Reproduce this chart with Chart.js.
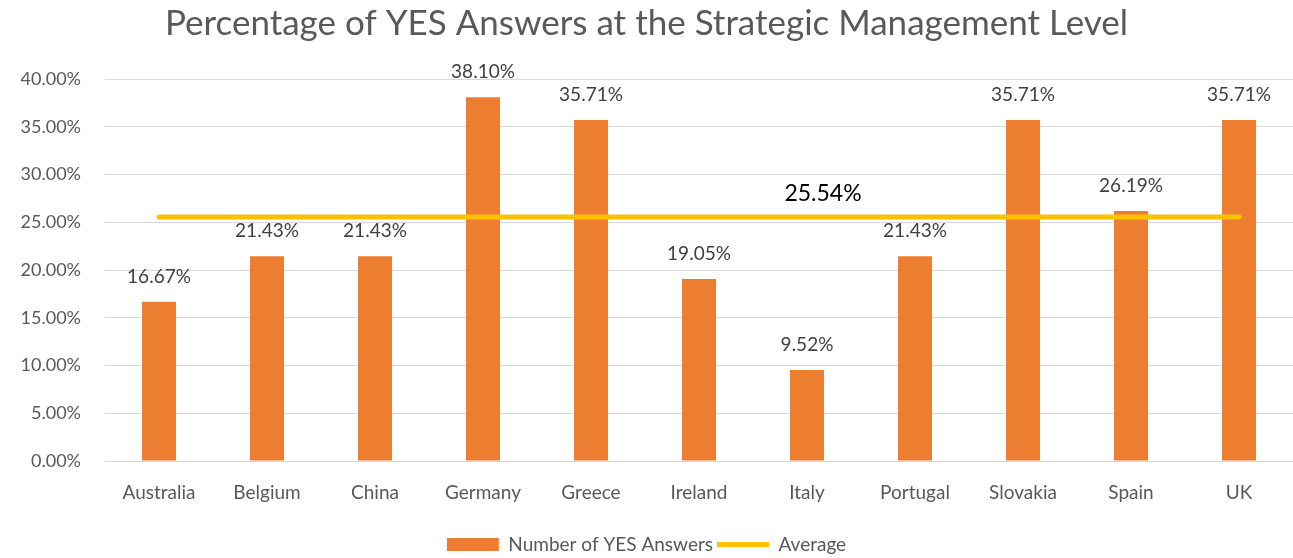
<!DOCTYPE html>
<html>
<head>
<meta charset="utf-8">
<script src="https://cdn.jsdelivr.net/npm/chart.js@4/dist/chart.umd.min.js"></script>
<style>
  html, body { margin: 0; padding: 0; background: #fff; }
  #wrap { width: 1293px; height: 558px; position: relative; }
</style>
</head>
<body>
<div id="wrap"><canvas id="yesChart"></canvas></div>
<script>
const countries = ['Australia', 'Belgium', 'China', 'Germany', 'Greece', 'Ireland', 'Italy', 'Portugal', 'Slovakia', 'Spain', 'UK'];
const yesValues = [16.67, 21.43, 21.43, 38.10, 35.71, 19.05, 9.52, 21.43, 35.71, 26.19, 35.71];
const averageValue = 25.54;
const averageValues = countries.map(() => averageValue);

const fontFamily = 'Lato, "Open Sans", sans-serif';

// draws the value labels over the bars and the one average label
const valueLabels = {
    id: 'valueLabels',
    afterDatasetsDraw(chart) {
        const ctx = chart.ctx;
        ctx.save();
        ctx.textAlign = 'center';
        ctx.textBaseline = 'middle';

        const barMeta = chart.getDatasetMeta(0);
        ctx.font = '19px ' + fontFamily;
        ctx.fillStyle = '#404040';
        barMeta.data.forEach((bar, i) => {
            ctx.fillText(yesValues[i].toFixed(2) + '%', bar.x, bar.y - 25);
        });

        const lineMeta = chart.getDatasetMeta(1);
        const pt = lineMeta.data[6];
        ctx.font = '23px ' + fontFamily;
        ctx.fillStyle = '#000000';
        ctx.fillText(averageValue.toFixed(2) + '%', pt.x + 16, pt.y - 24);
        ctx.restore();
    }
};

new Chart(document.getElementById('yesChart'), {
    type: 'bar',
    data: {
        labels: countries,
        datasets: [{
            label: 'Number of YES Answers',
            data: yesValues,
            backgroundColor: '#ED7D31',
            borderWidth: 0,
            barPercentage: 0.315,
            categoryPercentage: 1,
            pointStyle: 'rect',
            order: 2
        }, {
            type: 'line',
            label: 'Average',
            data: averageValues,
            borderColor: '#FFC000',
            backgroundColor: '#FFC000',
            borderWidth: 5,
            borderCapStyle: 'round',
            pointRadius: 0,
            pointStyle: 'line',
            order: 1
        }]
    },
    options: {
        responsive: true,
        maintainAspectRatio: false,
        animation: false,
        layout: { padding: { left: 0, right: 0, top: 0, bottom: -6 } },
        plugins: {
            title: {
                display: true,
                text: 'Percentage of YES Answers at the Strategic Management Level',
                color: '#595959',
                font: { family: fontFamily, size: 35, weight: 'normal' },
                padding: { top: 3, bottom: 34 }
            },
            legend: {
                position: 'bottom',
                labels: {
                    usePointStyle: true,
                    pointStyleWidth: 52,
                    boxHeight: 13,
                    padding: 4,
                    color: '#595959',
                    font: { family: fontFamily, size: 19 },
                    sort: (a, b) => a.datasetIndex - b.datasetIndex
                }
            },
            tooltip: { enabled: false }
        },
        scales: {
            x: {
                grid: { display: false, drawTicks: false },
                border: { color: '#D9D9D9' },
                ticks: {
                    color: '#595959',
                    font: { family: fontFamily, size: 19 },
                    padding: 20
                },
                afterFit: s => { s.height = 70; }
            },
            y: {
                min: 0,
                max: 40,
                grid: { color: '#D9D9D9', drawTicks: false },
                border: { display: false },
                ticks: {
                    stepSize: 5,
                    color: '#595959',
                    font: { family: fontFamily, size: 18 },
                    padding: 24,
                    callback: v => v.toFixed(2) + '%'
                },
                afterFit: s => { s.width = 105; }
            }
        }
    },
    plugins: [valueLabels]
});
</script>
</body>
</html>
